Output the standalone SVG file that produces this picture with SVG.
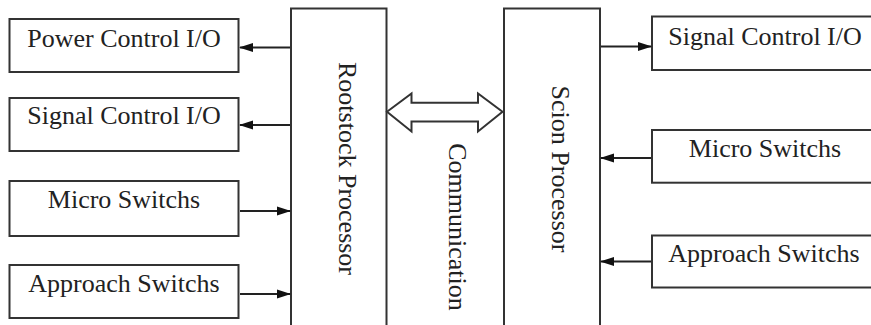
<svg xmlns="http://www.w3.org/2000/svg" width="871" height="325" viewBox="0 0 871 325">
<style>
.box{fill:#fff;stroke:#333;stroke-width:2}
.t{font-family:"Liberation Serif","Times New Roman",serif;font-size:26px;fill:#222;text-anchor:middle}
.c{stroke:#222;stroke-width:2;fill:none}
</style>
<defs>
<marker id="ah" markerWidth="14" markerHeight="10" refX="13" refY="5" orient="auto" markerUnits="userSpaceOnUse">
<path d="M0,0.5 L14,5 L0,9.5 Z" fill="#111"/>
</marker>
</defs>
<rect width="871" height="325" fill="#fff"/>
<g id="power-left"><rect class="box" x="9.5" y="19" width="229" height="53"/><text class="t" x="124" y="47">Power Control I/O</text></g>
<g id="signal-left"><rect class="box" x="9.5" y="98" width="229" height="53"/><text class="t" x="124" y="124">Signal Control I/O</text></g>
<g id="micro-left"><rect class="box" x="9.5" y="181" width="229" height="55"/><text class="t" x="124" y="208">Micro Switchs</text></g>
<g id="approach-left"><rect class="box" x="9.5" y="265" width="229" height="53"/><text class="t" x="124" y="292">Approach Switchs</text></g>
<g id="rootstock"><rect class="box" x="291" y="8.5" width="95.5" height="330"/><text class="t" transform="translate(338.5,168.5) rotate(90)" x="0" y="0">Rootstock Processor</text></g>
<g id="scion"><rect class="box" x="504" y="8.5" width="96" height="330"/><text class="t" transform="translate(552,169) rotate(90)" x="0" y="0">Scion Processor</text></g>
<g id="signal-right"><rect class="box" x="652" y="16.5" width="230" height="53.5"/><text class="t" x="765" y="45">Signal Control I/O</text></g>
<g id="micro-right"><rect class="box" x="652" y="130" width="230" height="52.7"/><text class="t" x="765" y="157">Micro Switchs</text></g>
<g id="approach-right"><rect class="box" x="652" y="235.5" width="230" height="52"/><text class="t" x="764" y="262">Approach Switchs</text></g>
<g id="communication"><text class="t" transform="translate(448.5,227) rotate(90)" x="0" y="0">Communication</text></g>
<g id="connectors">
<line class="c" x1="290" y1="47.5" x2="240" y2="47.5" marker-end="url(#ah)"/>
<line class="c" x1="290" y1="125" x2="240" y2="125" marker-end="url(#ah)"/>
<line class="c" x1="240" y1="211" x2="290" y2="211" marker-end="url(#ah)"/>
<line class="c" x1="240" y1="294" x2="290" y2="294" marker-end="url(#ah)"/>
<line class="c" x1="601" y1="46.5" x2="651" y2="46.5" marker-end="url(#ah)"/>
<line class="c" x1="651" y1="158" x2="601" y2="158" marker-end="url(#ah)"/>
<line class="c" x1="651" y1="261.5" x2="601" y2="261.5" marker-end="url(#ah)"/>
<path d="M387,111.7 L411.5,93.5 L411.5,102.7 L478,102.7 L478,93.5 L502.5,111.7 L478,131.5 L478,121.5 L411.5,121.5 L411.5,131.5 Z" fill="#fff" stroke="#333" stroke-width="2" stroke-linejoin="miter"/>
</g>
</svg>
